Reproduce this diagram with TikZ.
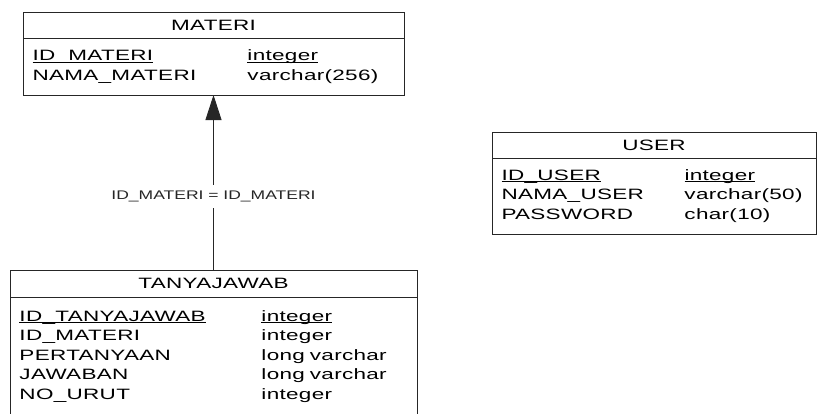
\documentclass[tikz,border=0pt]{standalone}
\usepackage{fontspec}
\setmainfont{Liberation Sans}
\newfontfamily\erdfont[FakeStretch=1.5, LetterSpace=2]{Liberation Sans}
\newfontfamily\relfont[FakeStretch=1.4]{Liberation Sans}
\usepackage{tikz}
\usetikzlibrary{arrows.meta, positioning}
% one attribute row: name in a column of fixed width, then type
\newcommand{\fld}[3]{\makebox[#1][l]{#2}#3}
% key underline, close to the baseline
\newcommand{\keyul}[1]{\setbox0\hbox{#1}\rlap{\rule[-1.8pt]{\wd0}{0.9pt}}\box0}

\begin{document}
\begin{tikzpicture}[x=1pt, y=1pt,
  tblhead/.style={rectangle, draw=black!85, line width=0.9pt, inner sep=0pt, outer sep=0pt, minimum height=26pt, font=\fontsize{15}{19.5}\erdfont, anchor=north west},
  tblbody/.style={rectangle, draw=black!85, line width=0.9pt, inner xsep=9.5pt, inner ysep=0pt, outer sep=0pt, align=left, font=\fontsize{15}{19.5}\erdfont},
  fk/.style={-{Triangle[length=25pt, width=16pt]}, line width=0.9pt, black!85},
  rel/.style={fill=white, inner xsep=1pt, inner ysep=6pt, font=\fontsize{12.5}{14}\relfont}
]
\useasboundingbox (0,0) rectangle (817,-413);

% MATERI
\node[tblhead, minimum width=381pt] (materi) at (23,-12) {MATERI};
\node[tblbody, text width=362pt, minimum height=57pt, below=0pt of materi] (materibody) {%
  \fld{215pt}{\keyul{ID\_MATERI}}{\keyul{integer}}\\
  \fld{215pt}{NAMA\_MATERI}{varchar(256)}};

% USER
\node[tblhead, minimum width=324pt] (user) at (492,-132) {USER};
\node[tblbody, text width=305pt, minimum height=76pt, below=0pt of user] (userbody) {%
  \fld{183pt}{\keyul{ID\_USER}}{\keyul{integer}}\\
  \fld{183pt}{NAMA\_USER}{varchar(50)}\\
  \fld{183pt}{PASSWORD}{char(10)}};

% TANYAJAWAB
\node[tblhead, minimum width=407pt, minimum height=27pt] (tanyajawab) at (10,-270) {TANYAJAWAB};
\node[tblbody, text width=388pt, minimum height=119pt, below=0pt of tanyajawab] (tanyajawabbody) {%
  \fld{242pt}{\keyul{ID\_TANYAJAWAB}}{\keyul{integer}}\\
  \fld{242pt}{ID\_MATERI}{integer}\\
  \fld{242pt}{PERTANYAAN}{long varchar}\\
  \fld{242pt}{JAWABAN}{long varchar}\\
  \fld{242pt}{NO\_URUT}{integer}};

% reference
\draw[fk] (tanyajawab.north) -- node[rel, pos=0.42] (idmateri) {ID\_MATERI = ID\_MATERI} (materibody.south);
\end{tikzpicture}
\end{document}
